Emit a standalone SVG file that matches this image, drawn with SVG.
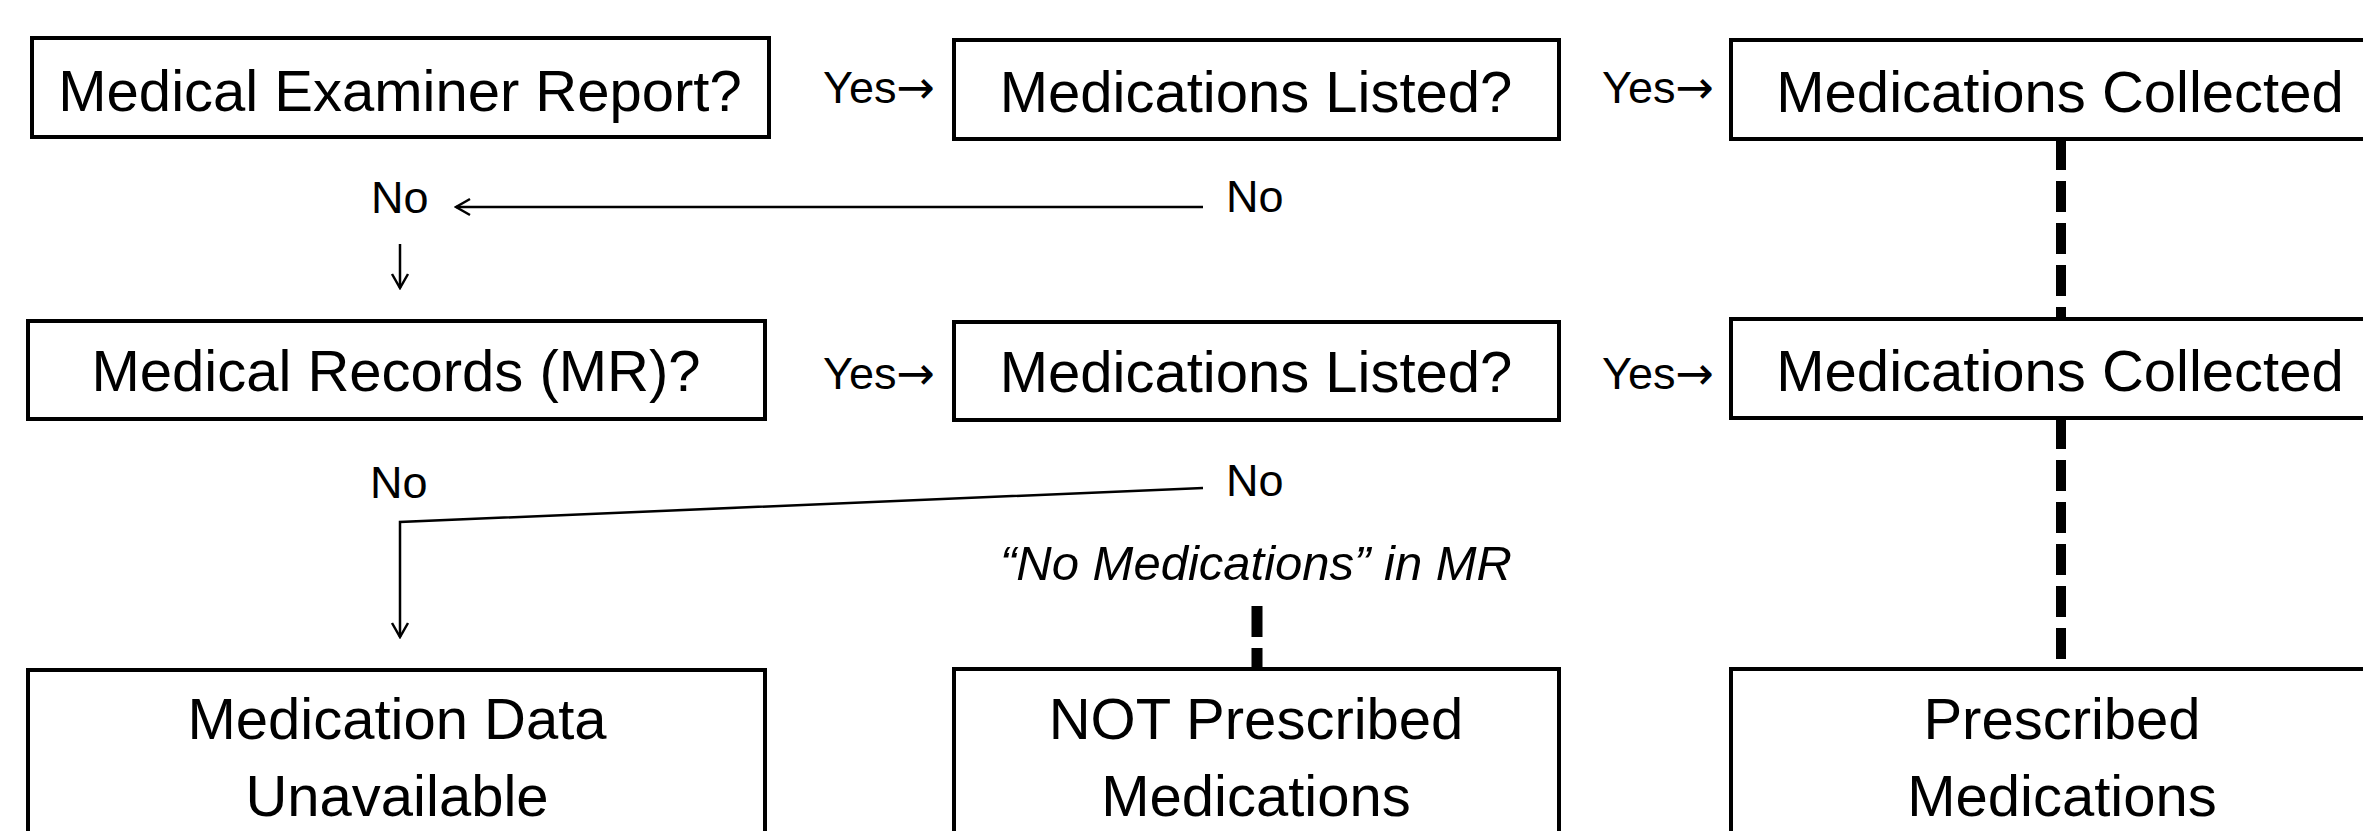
<svg xmlns="http://www.w3.org/2000/svg" width="2363" height="831" viewBox="0 0 2363 831">
<defs>
<style>
.box{fill:#fff;stroke:#000;stroke-width:4}
.t{font-family:"Liberation Sans",Arial,sans-serif;font-size:58px;fill:#000;text-anchor:middle}
.lbl{font-family:"Liberation Sans",Arial,sans-serif;font-size:45px;fill:#000}
.ar{font-family:"DejaVu Sans",sans-serif;font-size:46px}
.it{font-family:"Liberation Sans",Arial,sans-serif;font-size:49px;font-style:italic;fill:#000;text-anchor:middle}
.thin{fill:none;stroke:#000;stroke-width:2.5}
.dash{fill:none;stroke:#000;stroke-width:10;stroke-dasharray:31 11}
</style>
<marker id="open" viewBox="0 0 20 20" refX="18" refY="10" markerWidth="20" markerHeight="20" markerUnits="userSpaceOnUse" orient="auto">
<path d="M4,2 L18,10 L4,18" fill="none" stroke="#000" stroke-width="2.5"/>
</marker>
</defs>
<rect width="2363" height="831" fill="#fff"/>
<g id="connectors">
<line class="thin" x1="1203" y1="207" x2="456" y2="207" marker-end="url(#open)"/>
<line class="thin" x1="400" y1="244" x2="400" y2="288" marker-end="url(#open)"/>
<polyline class="thin" points="1203,488 400,522 400,637" marker-end="url(#open)"/>
<line class="dash" x1="2061" y1="139" x2="2061" y2="320"/>
<line class="dash" x1="2061" y1="418" x2="2061" y2="669"/>
<line class="dash" x1="1257" y1="606" x2="1257" y2="668" style="stroke-width:11"/>
<text class="lbl" x="371" y="213">No</text>
<text class="lbl" x="1226" y="212">No</text>
<text class="lbl" x="370" y="498">No</text>
<text class="lbl" x="1226" y="496">No</text>
<text class="lbl" x="823" y="103">Yes<tspan class="ar">→</tspan></text>
<text class="lbl" x="1602" y="103">Yes<tspan class="ar">→</tspan></text>
<text class="lbl" x="823" y="389">Yes<tspan class="ar">→</tspan></text>
<text class="lbl" x="1602" y="389">Yes<tspan class="ar">→</tspan></text>
<text class="it" x="1256" y="580">“No Medications” in MR</text>
</g>
<g id="me-report">
<rect class="box" x="32" y="38" width="737" height="99"/>
<text class="t" x="400" y="111">Medical Examiner Report?</text>
</g>
<g id="me-listed">
<rect class="box" x="954" y="40" width="605" height="99"/>
<text class="t" x="1256" y="112">Medications Listed?</text>
</g>
<g id="me-collected">
<rect class="box" x="1731" y="40" width="662" height="99"/>
<text class="t" x="2060" y="112">Medications Collected</text>
</g>
<g id="mr">
<rect class="box" x="28" y="321" width="737" height="98"/>
<text class="t" x="396" y="391">Medical Records (MR)?</text>
</g>
<g id="mr-listed">
<rect class="box" x="954" y="322" width="605" height="98"/>
<text class="t" x="1256" y="392">Medications Listed?</text>
</g>
<g id="mr-collected">
<rect class="box" x="1731" y="319" width="662" height="99"/>
<text class="t" x="2060" y="391">Medications Collected</text>
</g>
<g id="unavailable">
<rect class="box" x="28" y="670" width="737" height="200"/>
<text class="t" x="397" y="739">Medication Data</text>
<text class="t" x="397" y="816">Unavailable</text>
</g>
<g id="not-prescribed">
<rect class="box" x="954" y="669" width="605" height="200"/>
<text class="t" x="1256" y="739">NOT Prescribed</text>
<text class="t" x="1256" y="816">Medications</text>
</g>
<g id="prescribed">
<rect class="box" x="1731" y="669" width="662" height="200"/>
<text class="t" x="2062" y="739">Prescribed</text>
<text class="t" x="2062" y="816">Medications</text>
</g>
</svg>
